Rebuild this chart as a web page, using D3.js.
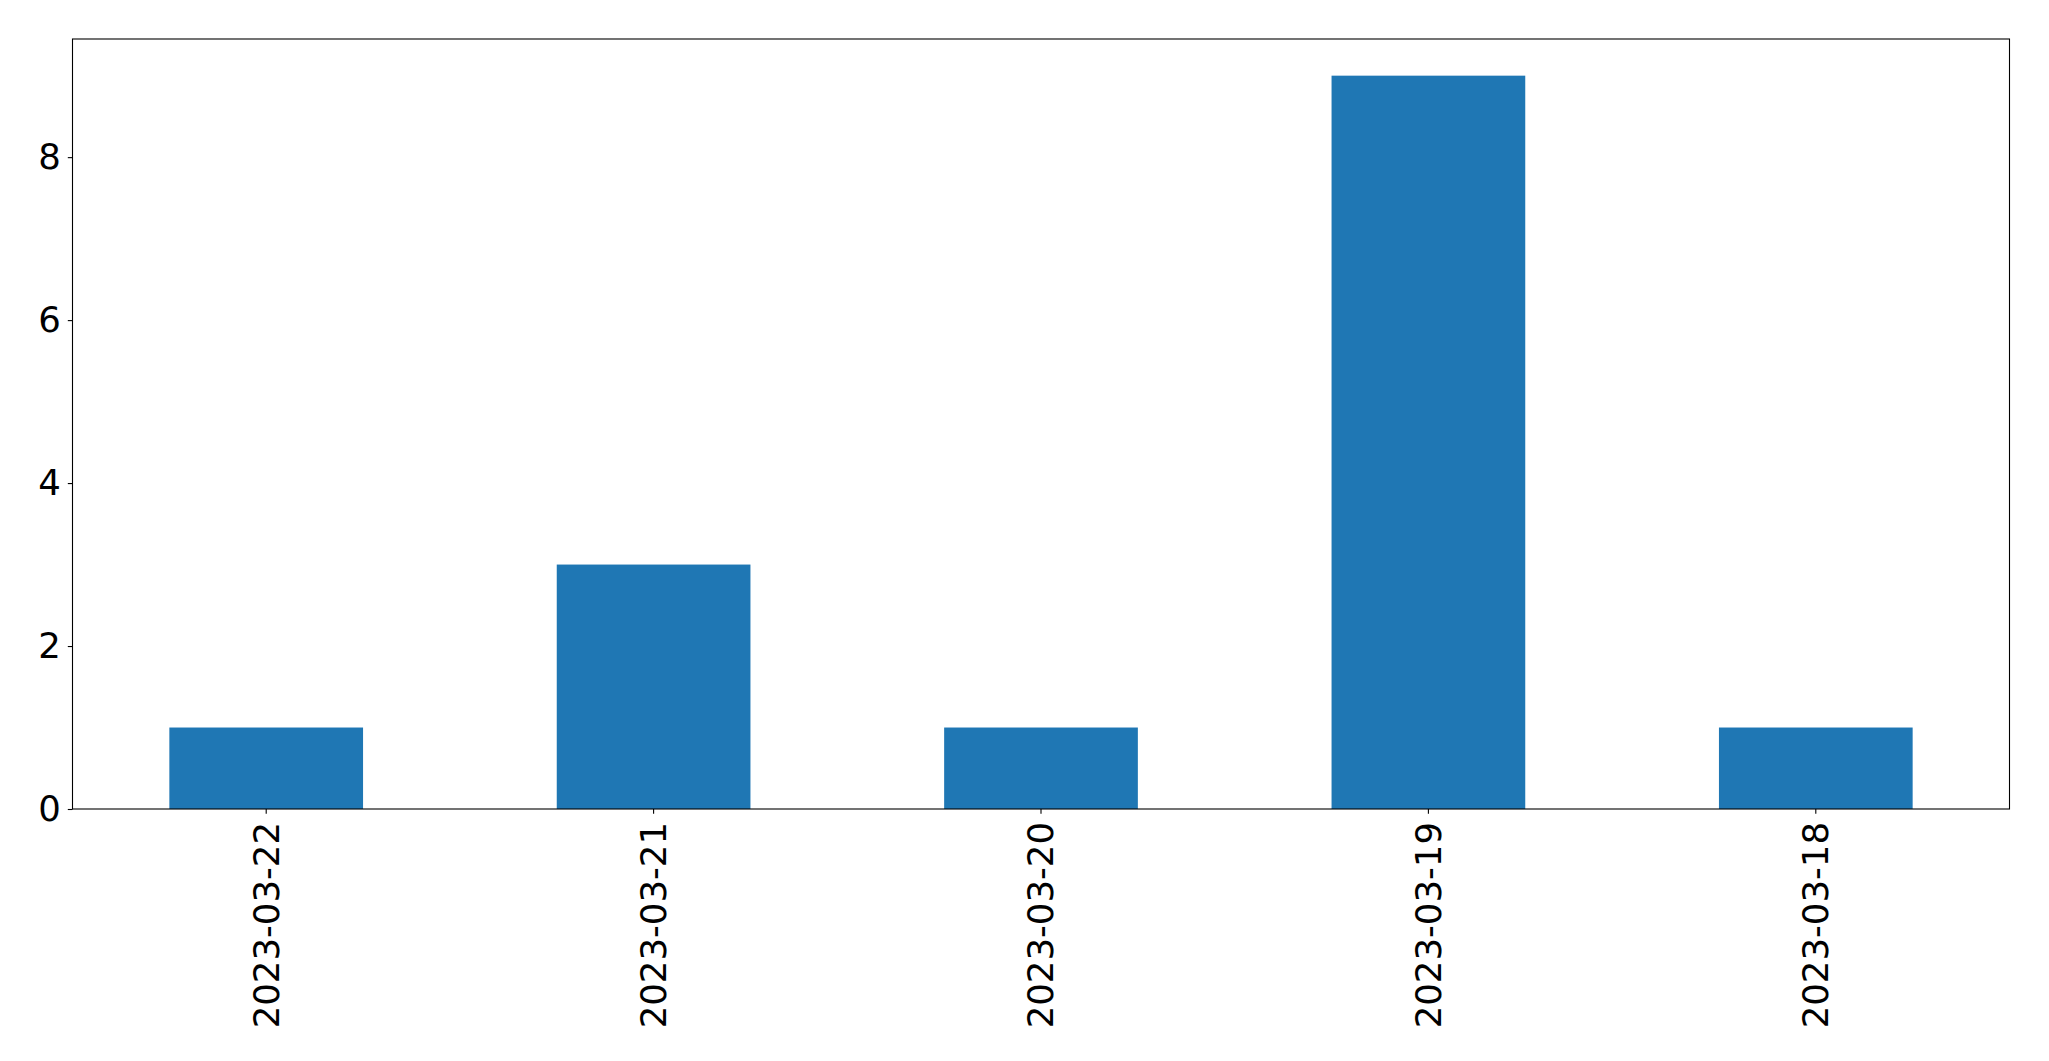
<!DOCTYPE html>
<html><head><meta charset="utf-8">
<script src="https://cdn.jsdelivr.net/npm/d3@7"></script>
<style>body{margin:0;background:#fff}svg{display:block}</style>
</head><body>
<script>
const categories = ["2023-03-22","2023-03-21","2023-03-20","2023-03-19","2023-03-18"];
const values = [1,3,1,9,1];
const yTicks = [0,2,4,6,8];

const W = 2049, H = 1061;
const m = {left:72.5, top:39, right:2009.5, bottom:809};
const svg = d3.select("body").append("svg").attr("width",W).attr("height",H);

const x = d3.scaleBand().domain(categories).range([m.left,m.right]).paddingInner(0.5).paddingOuter(0.25);
const y = d3.scaleLinear().domain([0, d3.max(values)*1.05]).range([m.bottom,m.top]);

svg.append("g").selectAll("rect").data(values).join("rect")
  .attr("x",(d,i)=>x(categories[i])).attr("width",x.bandwidth())
  .attr("y",d=>y(d)).attr("height",d=>y(0)-y(d)).attr("fill","#1f77b4");

const font = "DejaVu Sans";
const fs = 35.5;
const yAxis = svg.append("g").attr("transform",`translate(${m.left},0)`)
  .call(d3.axisLeft(y).tickValues(yTicks).tickSize(4.7).tickPadding(7).tickFormat(d3.format("d")));
yAxis.select(".domain").remove();
yAxis.selectAll("text").attr("font-family",font).attr("font-size",fs).attr("fill","#000");
yAxis.selectAll("line").attr("stroke","#000").attr("stroke-width",1.1);

const xAxis = svg.append("g").attr("transform",`translate(0,${m.bottom})`)
  .call(d3.axisBottom(x).tickSize(4.7).tickPadding(7));
xAxis.select(".domain").remove();
xAxis.selectAll("line").attr("stroke","#000").attr("stroke-width",1.1);
xAxis.selectAll("text").attr("font-family",font).attr("font-size",fs).attr("fill","#000")
  .attr("transform","rotate(-90)").attr("text-anchor","end").attr("dy","0.35em").attr("x",-13).attr("y",0);

svg.append("rect").attr("x",m.left).attr("y",m.top).attr("width",m.right-m.left).attr("height",m.bottom-m.top)
  .attr("fill","none").attr("stroke","#000").attr("stroke-width",1.1);
</script>
</body></html>
